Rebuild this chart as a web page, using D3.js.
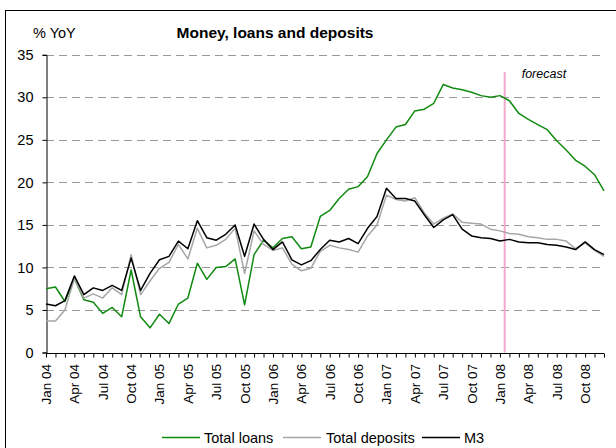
<!DOCTYPE html>
<html><head><meta charset="utf-8">
<script src="https://cdn.jsdelivr.net/npm/d3@7"></script>
<style>body{margin:0;background:#fff;}svg{display:block;font-family:"Liberation Sans",Arial,sans-serif;}</style>
</head><body><svg id="c" width="616" height="448"></svg>
<script>
const months = ["Jan","Feb","Mar","Apr","May","Jun","Jul","Aug","Sep","Oct","Nov","Dec"];
const years = ["04","05","06","07","08"];
const categories = [];
years.forEach(y => months.forEach(m => categories.push(m + " " + y)));
const tickLabels = categories.filter((c, i) => i % 3 === 0);

const totalLoans = [7.5,7.7,6.0,8.7,6.2,5.9,4.6,5.3,4.2,9.7,4.2,2.9,
  4.5,3.4,5.7,6.4,10.5,8.6,10.0,10.1,11.0,5.6,11.5,13.2,
  12.3,13.4,13.6,12.2,12.4,16.0,16.7,18.1,19.2,19.5,20.7,23.4,
  25.0,26.5,26.8,28.4,28.6,29.3,31.5,31.1,30.9,30.6,30.2,30.0,
  30.2,29.6,28.1,27.4,26.8,26.2,24.9,23.8,22.6,21.9,20.9,19.0];
const totalDeposits = [3.7,3.7,5.0,8.7,6.4,6.9,6.4,7.6,6.8,11.5,6.8,8.4,
  9.9,10.6,12.7,11.0,14.6,12.3,12.6,13.3,14.6,9.3,14.3,12.7,
  12.0,12.3,10.4,9.6,9.9,11.9,12.6,12.3,12.1,11.8,13.7,15.0,
  18.5,18.0,17.8,18.2,16.4,15.1,15.8,16.3,15.3,15.2,15.1,14.5,
  14.3,14.0,13.9,13.6,13.5,13.3,13.3,13.1,12.2,12.9,12.0,11.3];
const m3 = [5.7,5.5,6.1,9.0,6.8,7.6,7.3,7.9,7.3,11.1,7.3,9.3,
  10.9,11.3,13.1,12.2,15.5,13.5,13.2,13.9,15.0,11.3,15.1,13.3,
  12.1,13.0,10.9,10.3,10.8,12.1,13.2,13.0,13.4,12.8,14.6,16.0,
  19.3,18.1,18.1,17.8,16.2,14.7,15.6,16.2,14.5,13.7,13.5,13.4,
  13.1,13.3,13.0,12.9,12.9,12.7,12.6,12.4,12.1,13.0,12.1,11.5];
const yTicks = [0,5,10,15,20,25,30,35];
const forecastStart = 48.5; // between Jan 08 and Feb 08

const series = [
  {name:"Total loans", values: totalLoans, color:"#108a10"},
  {name:"Total deposits", values: totalDeposits, color:"#a6a6a6"},
  {name:"M3", values: m3, color:"#000000"}
];

const svg = d3.select("#c");
const x0 = 46, x1 = 604, yTop = 54.8, yBot = 352.5;
const x = d3.scaleLinear().domain([0, categories.length - 1]).range([x0, x1]);
const y = d3.scaleLinear().domain([0, 35]).range([yBot, yTop]);

// frame
svg.append("rect").attr("x",5.5).attr("y",10.5).attr("width",640).attr("height",460)
  .attr("fill","none").attr("stroke","#000").attr("stroke-width",1);

// gridlines
svg.append("g").selectAll("line").data(yTicks.filter(d => d > 0)).join("line")
  .attr("x1", x0).attr("x2", x1)
  .attr("y1", d => Math.round(y(d)) + 0.5).attr("y2", d => Math.round(y(d)) + 0.5)
  .attr("stroke", "#999").attr("stroke-width", 1).attr("stroke-dasharray", "8,5");

// forecast line
svg.append("line").attr("x1", x(forecastStart)).attr("x2", x(forecastStart))
  .attr("y1", 72).attr("y2", yBot).attr("stroke", "#f4a9cc").attr("stroke-width", 2);
svg.append("text").attr("x", x(forecastStart) + 17).attr("y", 78)
  .attr("font-size", 12.5).attr("font-style", "italic").attr("fill", "#000").text("forecast");

// y axis
const yAxis = d3.axisLeft(y).tickValues(yTicks).tickSize(4).tickPadding(9).tickFormat(d3.format("d"));
const gy = svg.append("g").attr("transform", `translate(${x0 + 0.5},0)`).call(yAxis);
gy.selectAll("text").attr("font-size", 14.5).attr("fill", "#000").attr("font-family", "Liberation Sans, Arial, sans-serif");
gy.select(".domain").attr("stroke", "#000");
gy.selectAll(".tick line").attr("stroke", "#000");

// x axis
const xAxis = d3.axisBottom(x).tickValues(d3.range(categories.length)).tickSize(4).tickFormat(() => "");
const gx = svg.append("g").attr("transform", `translate(0,${Math.round(yBot) + 0.5})`).call(xAxis);
gx.select(".domain").attr("stroke", "#000").attr("d", `M${x0},0H${x1}`);
gx.selectAll(".tick line").attr("stroke", "#000");
svg.append("g").selectAll("text").data(tickLabels).join("text")
  .attr("transform", d => `translate(${x(categories.indexOf(d)) + 5},364) rotate(-90)`)
  .attr("text-anchor", "end").attr("font-size", 13.5).attr("fill", "#000").text(d => d);

// lines
const line = d3.line().x((d, i) => x(i)).y(d => y(d));
svg.append("g").selectAll("path").data(series).join("path")
  .attr("d", s => line(s.values)).attr("fill", "none")
  .attr("stroke", s => s.color).attr("stroke-width", 1.5).attr("stroke-linejoin", "round");

// title and unit
svg.append("text").attr("x", 275).attr("y", 38).attr("text-anchor", "middle")
  .attr("font-size", 15.5).attr("font-weight", "bold").text("Money, loans and deposits");
svg.append("text").attr("x", 33).attr("y", 38).attr("font-size", 14.5).text("% YoY");

// legend
const legendPos = [{lx:162, tx:204}, {lx:283, tx:326}, {lx:422, tx:464}];
const lg = svg.append("g").selectAll("g").data(series).join("g");
lg.append("line").attr("x1", (d, i) => legendPos[i].lx).attr("x2", (d, i) => legendPos[i].lx + 38)
  .attr("y1", 437.5).attr("y2", 437.5).attr("stroke", d => d.color).attr("stroke-width", 1.5);
lg.append("text").attr("x", (d, i) => legendPos[i].tx).attr("y", 442.5)
  .attr("font-size", 14.5).text(d => d.name);
</script></body></html>
